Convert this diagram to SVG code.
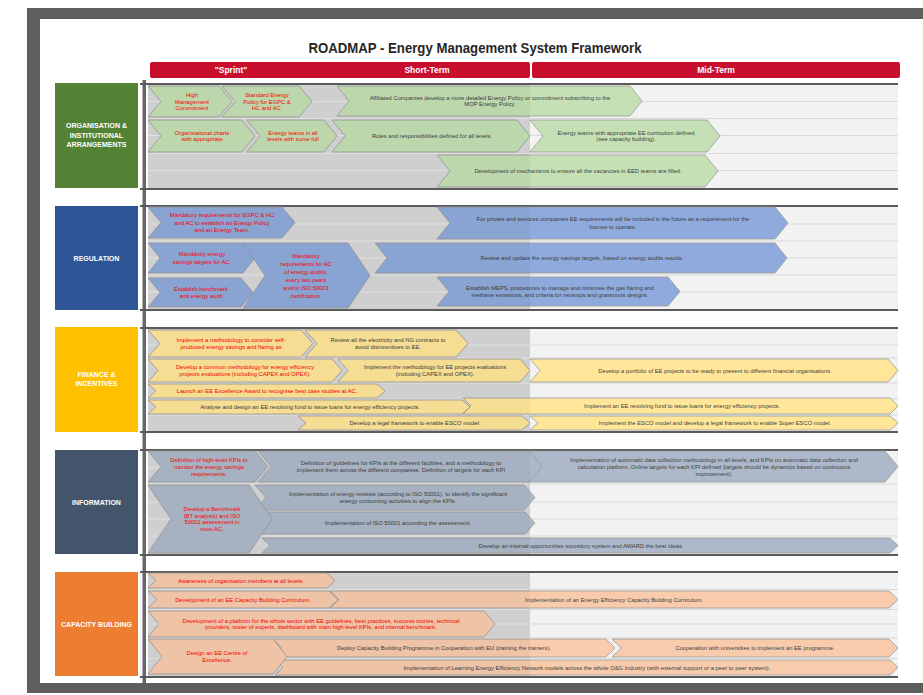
<svg xmlns="http://www.w3.org/2000/svg" width="923" height="695" viewBox="0 0 923 695">
<style>
text{font-family:"Liberation Sans",Arial,sans-serif}
.t{font-size:5.8px;text-anchor:middle}
.r{fill:#f00}
.g{fill:#404040}
.cat{font-size:7px;font-weight:bold;fill:#fff;text-anchor:middle}
.hd{font-size:8.5px;font-weight:bold;fill:#fff;text-anchor:middle}
.ch{stroke:#999;stroke-width:0.8}
.grn{fill:#c5e0b4}
.blu{fill:#8faadc}
.yel{fill:#ffe699}
.sla{fill:#adb9ca}
.pch{fill:#f8cbad}
.bg{fill:#f2f2f2}
.bgl{fill:#d8d8d8}
.shade{fill:#000;opacity:.04}
.ln{stroke:#d9d9d9;stroke-width:1}
.lnl{stroke:#e9e9e9;stroke-width:1.2}
.sec{stroke:#5a5a5a;stroke-width:2}
</style>

<!-- frame -->
<rect x="27" y="8" width="896" height="685" fill="#5e5e5e"/>
<rect x="40" y="19" width="883" height="664" fill="#fff"/>

<!-- title and time header -->
<text x="475" y="53" font-size="14" font-weight="bold" fill="#262626" text-anchor="middle" textLength="333" lengthAdjust="spacingAndGlyphs">ROADMAP - Energy Management System Framework</text>
<g id="timeline-header">
  <rect x="150" y="62" width="380" height="16" rx="2" fill="#c8102e"/>
  <rect x="532" y="62" width="368" height="16" rx="2" fill="#c8102e"/>
  <text class="hd" x="231" y="73">"Sprint"</text>
  <text class="hd" x="427" y="73">Short-Term</text>
  <text class="hd" x="716" y="73">Mid-Term</text>
</g>

<!-- row backgrounds: light mid-term area, grey sprint / short-term area -->
<g id="backgrounds">
  <rect class="bg" x="148" y="85" width="750" height="103"/>
  <rect class="bg" x="148" y="207" width="750" height="102"/>
  <rect class="bg" x="148" y="329" width="750" height="102"/>
  <rect class="bg" x="148" y="451" width="750" height="103"/>
  <rect class="bg" x="148" y="573" width="750" height="103"/>
  <path class="ln" d="M530 101.5H898M530 118.5H898M530 135.5H898M530 153.5H898M530 170.5H898
    M530 224H898M530 241H898M530 258H898M530 275H898M530 292H898
    M530 345H898M530 358H898M530 383H898M530 399H898M530 415H898
    M530 468H898M530 484H898M530 502H898M530 519H898M530 536H898
    M530 589.5H898M530 609.5H898M530 624H898M530 638H898M530 658.5H898"/>
  <rect class="bgl" x="148" y="85" width="382" height="103"/>
  <rect class="bgl" x="148" y="207" width="382" height="102"/>
  <rect class="bgl" x="148" y="329" width="382" height="102"/>
  <rect class="bgl" x="148" y="451" width="382" height="103"/>
  <rect class="bgl" x="148" y="573" width="382" height="103"/>
  <path class="lnl" d="M148 101.5H530M148 118.5H530M148 135.5H530M148 153.5H530M148 170.5H530
    M148 224H530M148 241H530M148 258H530M148 275H530M148 292H530
    M148 345H530M148 358H530M148 383H530M148 399H530M148 415H530
    M148 468H530M148 484H530M148 502H530M148 519H530M148 536H530
    M148 589.5H530M148 609.5H530M148 624H530M148 638H530M148 658.5H530"/>
</g>

<!-- vertical axis and section rules -->
<rect x="142.5" y="80" width="3.5" height="603" fill="#676767"/>
<path class="sec" d="M140 84H898M140 189H898M140 206H898M140 310H898M140 328H898M140 432H898M140 450H898M140 555H898M140 572H898M140 677H898"/>

<!-- ORGANISATION & INSTITUTIONAL ARRANGEMENTS -->
<g id="cat-org">
  <rect x="55" y="83" width="83" height="105" fill="#548235"/>
  <text class="cat" x="96.5" y="128">ORGANISATION &amp;</text>
  <text class="cat" x="96.5" y="137.5">INSTITUTIONAL</text>
  <text class="cat" x="96.5" y="147">ARRANGEMENTS</text>
</g>
<g id="org-1"><path class="ch grn" d="M148,86H219L232,101.5L219,117H148L161,101.5Z"/>
  <text class="t r" x="192" y="97">High</text><text class="t r" x="192" y="103.5">Management</text><text class="t r" x="192" y="110">Commitment</text></g>
<g id="org-2"><path class="ch grn" d="M222,86H299L312,101.5L299,117H222L235,101.5Z"/>
  <text class="t r" x="267" y="97">Standard Energy</text><text class="t r" x="267" y="103.5">Policy for EGPC &amp;</text><text class="t r" x="267" y="110">HC and AC.</text></g>
<g id="org-3"><path class="ch grn" d="M337,86H630L642,101L630,116H337L349,101Z"/>
  <text class="t g" x="490" y="99.8">Affiliated Companies develop a more detailed Energy Policy or commitment subscribing to the</text><text class="t g" x="490" y="106.3">MOP Energy Policy.</text></g>
<g id="org-4"><path class="ch grn" d="M148,120H242L255,136L242,152H148L161,136Z"/>
  <text class="t r" x="202" y="134.8">Organisational charts</text><text class="t r" x="202" y="141.3">with appropriate</text></g>
<g id="org-5"><path class="ch grn" d="M247,120H324L337,136L324,152H247L260,136Z"/>
  <text class="t r" x="293" y="134.8">Energy teams in all</text><text class="t r" x="293" y="141.3">levels with some full</text></g>
<g id="org-6"><path class="ch grn" d="M332,120H517L530,136L517,152H332L345,136Z"/>
  <text class="t g" x="432" y="138">Roles and responsibilities defined for all levels.</text></g>
<g id="org-7"><path class="ch grn" d="M530,120H707L720,136L707,152H530L543,136Z"/>
  <text class="t g" x="626" y="134.8">Energy teams with appropriate EE curriculum defined</text><text class="t g" x="626" y="141.3">(see capacity building).</text></g>
<g id="org-8"><path class="ch grn" d="M437,155H705L718,171L705,187H437L450,171Z"/>
  <text class="t g" x="578" y="173">Development of mechanisms to ensure all the vacancies in EED teams are filled.</text></g>

<!-- REGULATION -->
<g id="cat-reg">
  <rect x="55" y="206" width="83" height="104" fill="#2f5597"/>
  <text class="cat" x="96.5" y="260.5">REGULATION</text>
</g>
<g id="reg-2"><path class="ch blu" d="M437,207H775L788,223L775,239H437L450,223Z"/>
  <text class="t g" x="613" y="221.3">For private and services companies EE requirements will be included in the future as a requirement for the</text><text class="t g" x="613" y="228.8">license to operate.</text></g>
<g id="reg-3"><path class="ch blu" d="M375,243H775L787,258L775,273H375L387,258Z"/>
  <text class="t g" x="582" y="260">Review and update the energy savings targets, based on energy audits results.</text></g>
<g id="reg-7"><path class="ch blu" d="M437,277H668L680,291.5L668,306H437L449,291.5Z"/>
  <text class="t g" x="560" y="289.8">Establish MEPS, procedures to manage and minimise the gas flaring and</text><text class="t g" x="560" y="297.3">methane emissions, and criteria for revamps and grassroots designs.</text></g>
<g id="reg-1"><path class="ch blu" d="M148,207H282L295,222.5L282,238H148L161,222.5Z"/>
  <text class="t r" x="222" y="217">Mandatory requirements for EGPC &amp; HC</text><text class="t r" x="222" y="224.5">and AC to establish an Energy Policy</text><text class="t r" x="222" y="232">and an Energy Team.</text></g>
<g id="reg-4"><path class="ch blu" d="M148,243H243L255,258L243,273H148L160,258Z"/>
  <text class="t r" x="202" y="256.3">Mandatory energy</text><text class="t r" x="202" y="263.8">savings targets for AC.</text></g>
<g id="reg-6"><path class="ch blu" d="M148,278H241L253,292.5L241,307H148L160,292.5Z"/>
  <text class="t r" x="201" y="290.8">Establish benchmark</text><text class="t r" x="201" y="298.3">and energy audit</text></g>
<g id="reg-5"><path class="ch blu" d="M243,243H348L370,275.5L348,308H243L265,275.5Z"/>
  <text class="t r" x="306" y="257.5">Mandatory</text><text class="t r" x="306" y="265.5">requirements for AC</text><text class="t r" x="306" y="273.5">of energy audits,</text><text class="t r" x="306" y="281.5">every two years</text><text class="t r" x="306" y="289.5">and/or ISO 50001</text><text class="t r" x="306" y="297.5">certification.</text></g>

<!-- FINANCE & INCENTIVES -->
<g id="cat-fin">
  <rect x="55" y="327" width="83" height="105" fill="#ffc000"/>
  <text class="cat" x="96.5" y="377">FINANCE &amp;</text>
  <text class="cat" x="96.5" y="386">INCENTIVES</text>
</g>
<g id="fin-1"><path class="ch yel" d="M148,330H301L313,343.5L301,357H148L160,343.5Z"/>
  <text class="t r" x="231" y="342.3">Implement a methodology to consider self-</text><text class="t r" x="231" y="348.8">produced energy savings and flaring as</text></g>
<g id="fin-2"><path class="ch yel" d="M305,330H456L468,343.5L456,357H305L317,343.5Z"/>
  <text class="t g" x="388" y="342.3">Review all the electricity and NG contracts to</text><text class="t g" x="388" y="348.8">avoid disincentives to EE.</text></g>
<g id="fin-3"><path class="ch yel" d="M148,359H332L342,370.5L332,382H148L158,370.5Z"/>
  <text class="t r" x="245" y="369.3">Develop a common methodology for energy efficiency</text><text class="t r" x="245" y="375.8">projects evaluations (including CAPEX and OPEX).</text></g>
<g id="fin-4"><path class="ch yel" d="M338,359H520L530,370.5L520,382H338L348,370.5Z"/>
  <text class="t g" x="435" y="369.3">Implement the methodology for EE projects evaluations</text><text class="t g" x="435" y="375.8">(including CAPEX and OPEX).</text></g>
<g id="fin-5"><path class="ch yel" d="M530,359H888L898,370.5L888,382H530L540,370.5Z"/>
  <text class="t g" x="715" y="372.5">Develop a portfolio of EE projects to be ready to present to different financial organisations.</text></g>
<g id="fin-6"><path class="ch yel" d="M148,384H377L385,391L377,398H148L156,391Z"/>
  <text class="t r" x="267" y="393">Launch an EE Excellence Award to recognise best case studies at AC.</text></g>
<g id="fin-8"><path class="ch yel" d="M463,398H890L898,406L890,414H463L471,406Z"/>
  <text class="t g" x="682" y="408">Implement an EE revolving fund to issue loans for energy efficiency projects.</text></g>
<g id="fin-7"><path class="ch yel" d="M148,400H462L470,407L462,414H148L156,407Z"/>
  <text class="t g" x="310" y="409">Analyse and design an EE revolving fund to issue loans for energy efficiency projects.</text></g>
<g id="fin-9"><path class="ch yel" d="M298,416H522L530,423L522,430H298L306,423Z"/>
  <text class="t g" x="415" y="425">Develop a legal framework to enable ESCO model.</text></g>
<g id="fin-10"><path class="ch yel" d="M530,416H890L898,423L890,430H530L538,423Z"/>
  <text class="t g" x="715" y="425">Implement the ESCO model and develop a legal framework to enable Super ESCO model.</text></g>

<!-- INFORMATION -->
<g id="cat-info">
  <rect x="55" y="450" width="83" height="104" fill="#44546a"/>
  <text class="cat" x="96.5" y="504.5">INFORMATION</text>
</g>
<g id="info-1"><path class="ch sla" d="M148,451H255L268,466.5L255,482H148L161,466.5Z"/>
  <text class="t r" x="209" y="461.5">Definition of high-level KPIs to</text><text class="t r" x="209" y="468.5">monitor the energy savings</text><text class="t r" x="209" y="475.5">requirements.</text></g>
<g id="info-3"><path class="ch sla" d="M528,451H885L898,466.5L885,482H528L541,466.5Z"/>
  <text class="t g" x="714" y="461.5">Implementation of automatic data collection methodology in all levels, and KPIs on automatic data collection and</text><text class="t g" x="714" y="468.5">calculation platform. Online targets for each KPI defined (targets should be dynamics based on continuous</text><text class="t g" x="714" y="475.5">improvement).</text></g>
<g id="info-2"><path class="ch sla" d="M258,451H529L542,466.5L529,482H258L271,466.5Z"/>
  <text class="t g" x="401" y="465">Definition of guidelines for KPIs at the different facilities, and a methodology to</text><text class="t g" x="401" y="472">implement them across the different companies. Definition of targets for each KPI</text></g>
<g id="info-4"><path class="ch sla" d="M255,485H524L535,497.5L524,510H255L266,497.5Z"/>
  <text class="t g" x="398" y="496">Implementation of energy reviews (according to ISO 50001), to identify the significant</text><text class="t g" x="398" y="503">energy consuming activities to align the KPIs.</text></g>
<g id="info-5"><path class="ch sla" d="M255,512H525L535,523L525,534H255L265,523Z"/>
  <text class="t g" x="398" y="525">Implementation of  ISO 50001 according the assessment.</text></g>
<g id="info-6"><path class="ch sla" d="M262,538H890L898,545.5L890,553H262L270,545.5Z"/>
  <text class="t g" x="581" y="547.5">Develop an internal opportunities repository system and AWARD the best ideas.</text></g>
<g id="info-7"><path class="ch sla" d="M148,485H249L272,519L249,553H148L171,519Z"/>
  <text class="t r" x="212" y="511.3">Develop a Benchmark</text><text class="t r" x="212" y="517.8">(BT analysis) and ISO</text><text class="t r" x="212" y="524.3">50001 assessment in</text><text class="t r" x="212" y="530.8">most AC.</text></g>

<!-- CAPACITY BUILDING -->
<g id="cat-cap">
  <rect x="55" y="572" width="83" height="104" fill="#ed7d31"/>
  <text class="cat" x="96.5" y="626.5">CAPACITY BUILDING</text>
</g>
<g id="cap-1"><path class="ch pch" d="M148,573H327L335,580.5L327,588H148L156,580.5Z"/>
  <text class="t r" x="241" y="582.5">Awareness of organisation members at all levels.</text></g>
<g id="cap-3"><path class="ch pch" d="M330,591H889L898,599.5L889,608H330L339,599.5Z"/>
  <text class="t g" x="614" y="601.5">Implementation of an Energy Efficiency Capacity Building Curriculum.</text></g>
<g id="cap-2"><path class="ch pch" d="M148,591H329L338,599.5L329,608H148L157,599.5Z"/>
  <text class="t r" x="243" y="601.5">Development of an EE Capacity Building Curriculum.</text></g>
<g id="cap-4"><path class="ch pch" d="M148,611H484L495,624L484,637H148L159,624Z"/>
  <text class="t r" x="321" y="622.6">Development of a platform for the whole sector with EE guidelines, best practices, success stories, technical</text><text class="t r" x="321" y="629.4">providers, roster of experts, dashboard with main high-level KPIs, and internal benchmark.</text></g>
<g id="cap-6"><path class="ch pch" d="M612,639H889L898,648L889,657H612L621,648Z"/>
  <text class="t g" x="755" y="650">Cooperation with universities to implement an EE programme.</text></g>
<g id="cap-5"><path class="ch pch" d="M273,639H606L615,648L606,657H273L282,648Z"/>
  <text class="t g" x="444" y="650">Deploy Capacity Building Programme in Cooperation with EU (training the trainers).</text></g>
<g id="cap-7"><path class="ch pch" d="M275,660H890L898,667.5L890,675H275L283,667.5Z"/>
  <text class="t g" x="587" y="669.5">Implementation of Learning Energy Efficiency Network models across the whole O&amp;G Industry (with external support or a peer to peer system).</text></g>
<g id="cap-8"><path class="ch pch" d="M148,639H273L287,656.5L273,674H148L162,656.5Z"/>
  <text class="t r" x="217" y="655.1">Design an EE Centre of</text><text class="t r" x="217" y="661.9">Excellence.</text></g>

<!-- faint tint over the sprint / short-term column -->
<g id="column-shade">
  <rect class="shade" x="148" y="85" width="382" height="103"/>
  <rect class="shade" x="148" y="207" width="382" height="102"/>
  <rect class="shade" x="148" y="329" width="382" height="102"/>
  <rect class="shade" x="148" y="451" width="382" height="103"/>
  <rect class="shade" x="148" y="573" width="382" height="103"/>
</g>
</svg>
